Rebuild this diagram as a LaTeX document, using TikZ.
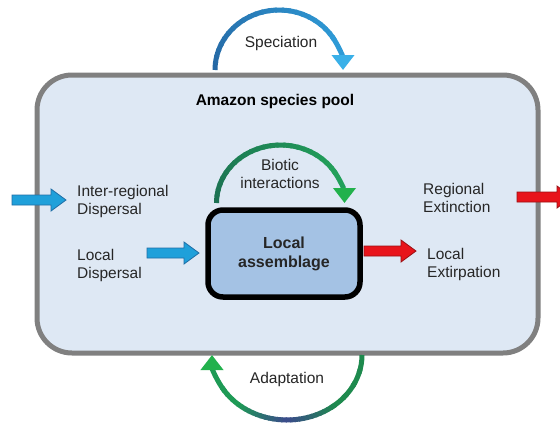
\documentclass[tikz,border=0pt]{standalone}
\usepackage{fontspec}
\setmainfont{Liberation Sans}
\usetikzlibrary{arrows.meta}
\definecolor{poolfill}{HTML}{DEE8F4}
\definecolor{poolline}{HTML}{808080}
\definecolor{boxfill}{HTML}{A4C2E4}
\definecolor{txt}{HTML}{262626}
\definecolor{bluefill}{HTML}{1FA0DA}
\definecolor{blueline}{HTML}{1F6EA6}
\definecolor{redfill}{HTML}{E8141B}
\definecolor{redline}{HTML}{9A1014}
\definecolor{specA}{HTML}{2567A3}
\definecolor{specB}{HTML}{2E9AD6}
\definecolor{spectip}{HTML}{3AB0E8}
\definecolor{bioA}{HTML}{1B6F52}
\definecolor{bioB}{HTML}{22A05A}
\definecolor{biotip}{HTML}{22B14C}
\definecolor{adA}{HTML}{1E8A4E}
\definecolor{adM}{HTML}{3B4A8C}
\definecolor{adB}{HTML}{1E9A55}
\definecolor{adtip}{HTML}{22B14C}
\newcommand\blockarrow[4]{%
  \filldraw[#4] (#1,#3-5) -- (#2-15,#3-5) -- (#2-15,#3-11) -- (#2,#3) -- (#2-15,#3+11) -- (#2-15,#3+5) -- (#1,#3+5) -- cycle;}
% gradient arc: center, rx, ry, a0, a1, col0, col1, steps
\newcommand\gradarc[8]{%
  \foreach \k in {1,...,#8}{%
    \pgfmathsetmacro\aa{#4+(#5-#4)*(\k-1)/#8}%
    \pgfmathsetmacro\ab{#4+(#5-#4)*(\k+0.3)/#8}%
    \pgfmathtruncatemacro\pc{100*(\k-0.5)/#8}%
    \draw[curvarr, color=#7!\pc!#6] ([shift={(\aa:#2 and #3)}]#1) arc[start angle=\aa, end angle=\ab, x radius=#2, y radius=#3];
  }}
\tikzset{
  lbl/.style={text=txt, font=\fontsize{15.5}{18}\selectfont, inner sep=0pt, align=left},
  clbl/.style={text=txt, font=\fontsize{15.5}{18}\selectfont, inner sep=0pt, align=center},
  pool/.style={draw=poolline, line width=5pt, fill=poolfill, rounded corners=35pt, inner sep=0pt},
  localbox/.style={draw=black, line width=5.5pt, fill=boxfill, rounded corners=15pt, inner sep=0pt, align=center, font=\bfseries\fontsize{16}{19}\selectfont, text=txt},
  bluearr/.style={fill=bluefill, draw=blueline, line width=0.8pt},
  redarr/.style={fill=redfill, draw=redline, line width=0.8pt},
  curvarr/.style={line width=5pt},
}
\begin{document}
\begin{tikzpicture}[x=1pt,y=-1pt]
\useasboundingbox (0,0) rectangle (560,424);
\clip (0,0) rectangle (560,424);
\fill[white] (0,0) rectangle (560,424);
% outer pool
\node[pool, minimum width=501pt, minimum height=278pt] (pool) at (287.5,214) {};
\node[font=\bfseries\fontsize{15.5}{18}\selectfont, inner sep=0pt] (title) at (275,101) {Amazon species pool};
% local assemblage
\node[localbox, minimum width=152pt, minimum height=87pt] (local) at (284,253.5) {Local\\assemblage};
% speciation arc
\coordinate (specC) at (279,70);
\gradarc{specC}{64pt}{60pt}{180}{32}{specA}{specB}{24}
\draw[curvarr, specB, -{Triangle[width=22pt,length=15pt,fill=spectip,color=spectip]}] ([shift={(34:64pt and 60pt)}]specC) arc[start angle=34, end angle=0, x radius=64pt, y radius=60pt] coordinate (specE);
\node[clbl] (spec) at (281,43) {Speciation};
% biotic arc
\coordinate (bioC) at (280.5,203);
\gradarc{bioC}{64pt}{58pt}{180}{32}{bioA}{bioB}{24}
\draw[curvarr, bioB, -{Triangle[width=22pt,length=15pt,fill=biotip,color=biotip]}] ([shift={(34:64pt and 58pt)}]bioC) arc[start angle=34, end angle=0, x radius=64pt, y radius=58pt] coordinate (bioE);
\node[clbl] (bio) at (280,174) {Biotic\\interactions};
% adaptation arc
\coordinate (adC) at (287,355);
\gradarc{adC}{75pt}{65pt}{0}{-50}{adA}{adA}{4}
\gradarc{adC}{75pt}{65pt}{-50}{-90}{adA}{adM}{12}
\gradarc{adC}{75pt}{65pt}{-90}{-130}{adM}{adB}{12}
\gradarc{adC}{75pt}{65pt}{-130}{-148}{adB}{adB}{3}
\draw[curvarr, adB, -{Triangle[width=22pt,length=15pt,fill=adtip,color=adtip]}] ([shift={(-146:75pt and 65pt)}]adC) arc[start angle=-146, end angle=-180, x radius=75pt, y radius=65pt] coordinate (adE);
\node[clbl] (adapt) at (287,379) {Adaptation};
% left side
\blockarrow{12}{66}{200}{bluearr}
\node[lbl, anchor=west] (inter) at (77,201) {Inter-regional\\Dispersal};
\blockarrow{147}{199}{253}{bluearr}
\node[lbl, anchor=west] (ldisp) at (77,265) {Local\\Dispersal};
% right side
\node[lbl, anchor=west] (regext) at (423,198) {Regional\\Extinction};
\blockarrow{517}{572}{197}{redarr}
\blockarrow{364}{416}{251}{redarr}
\node[lbl, anchor=west] (lextir) at (427,264) {Local\\Extirpation};
\end{tikzpicture}
\end{document}
